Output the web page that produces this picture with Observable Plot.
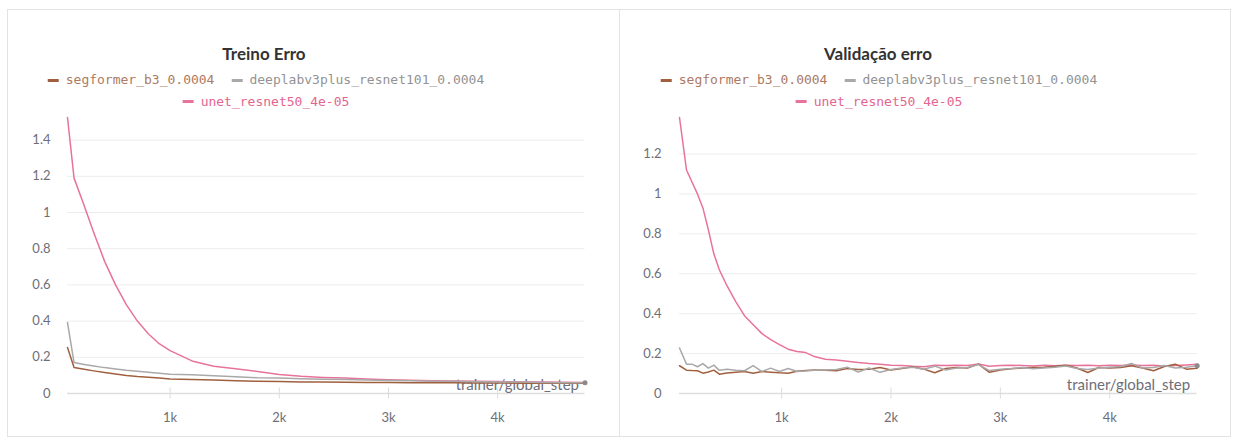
<!DOCTYPE html>
<html><head><meta charset="utf-8">
<script src="https://cdn.jsdelivr.net/npm/d3@7"></script>
<script src="https://cdn.jsdelivr.net/npm/@observablehq/plot@0.6"></script>
<style>
body{margin:0;background:#fff;width:1237px;height:439px;overflow:hidden;position:relative;font-family:Lato,sans-serif}
.panel{position:absolute;top:9px;height:428px;border:1px solid #e3e3e3;box-sizing:border-box}
.title{position:absolute;top:44px;font-weight:bold;font-size:17px;color:#333;transform:translateX(-50%);white-space:nowrap;line-height:20px}
.lrow{position:absolute;transform:translateX(-50%);white-space:nowrap;font-family:"DejaVu Sans Mono",monospace;font-size:13px;line-height:16px;display:flex;gap:17px}
.item{display:inline-flex;align-items:center}
.sw{display:inline-block;width:11px;height:3px;margin-right:7px}
.chart{position:absolute;top:109px}
</style></head><body>
<script>
// ---- data ----
const seriesNames = ["segformer_b3_0.0004", "deeplabv3plus_resnet101_0.0004", "unet_resnet50_4e-05"];
const titles = ["Treino Erro", "Validação erro"];
const xLabel = "trainer/global_step";
const xTicks = [1000, 2000, 3000, 4000];
const yTicksTrain = [0, 0.2, 0.4, 0.6, 0.8, 1, 1.2, 1.4];
const yTicksVal = [0, 0.2, 0.4, 0.6, 0.8, 1, 1.2];

const trainSteps = [60,120,200,300,400,500,600,700,800,900,1000,1200,1400,1600,1800,2000,2200,2400,2600,2800,3000,3200,3400,3600,3800,4000,4200,4400,4600,4800];
const trainSegformer = [0.254,0.144,0.135,0.125,0.116,0.108,0.1,0.094,0.09,0.085,0.08,0.078,0.075,0.07,0.067,0.066,0.064,0.063,0.062,0.061,0.061,0.06,0.06,0.059,0.058,0.058,0.057,0.057,0.056,0.056];
const trainDeeplab = [0.392,0.171,0.162,0.152,0.143,0.136,0.128,0.123,0.117,0.112,0.107,0.103,0.098,0.092,0.087,0.085,0.082,0.079,0.077,0.074,0.072,0.07,0.068,0.067,0.065,0.064,0.063,0.061,0.06,0.059];
const trainUnet = [1.525,1.19,1.06,0.89,0.73,0.6,0.49,0.4,0.33,0.275,0.237,0.18,0.15,0.137,0.122,0.105,0.095,0.089,0.085,0.08,0.076,0.073,0.071,0.069,0.067,0.066,0.064,0.063,0.062,0.061];

const valSteps = [66,130,180,230,280,330,380,430,500,580,660,740,820,900,980,1060,1140,1220,1300,1400,1500,1600,1700,1800,1900,2000,2100,2200,2300,2400,2500,2600,2700,2800,2900,3000,3100,3200,3300,3400,3500,3600,3700,3800,3900,4000,4100,4200,4300,4400,4500,4600,4700,4800];
const valSegformer = [0.139,0.117,0.115,0.114,0.102,0.108,0.117,0.097,0.103,0.107,0.11,0.102,0.11,0.107,0.104,0.102,0.112,0.115,0.118,0.116,0.114,0.125,0.12,0.122,0.13,0.118,0.125,0.134,0.122,0.104,0.125,0.13,0.128,0.147,0.106,0.118,0.124,0.128,0.13,0.132,0.136,0.142,0.128,0.105,0.13,0.128,0.13,0.139,0.128,0.114,0.135,0.147,0.122,0.127];
const valDeeplab = [0.228,0.147,0.147,0.134,0.15,0.127,0.142,0.116,0.122,0.117,0.114,0.14,0.11,0.127,0.11,0.125,0.11,0.113,0.116,0.118,0.12,0.132,0.108,0.128,0.106,0.12,0.128,0.132,0.122,0.137,0.118,0.128,0.13,0.145,0.115,0.122,0.125,0.13,0.124,0.128,0.132,0.138,0.125,0.12,0.128,0.132,0.135,0.15,0.128,0.13,0.14,0.128,0.132,0.139];
const valUnet = [1.383,1.12,1.06,1.0,0.93,0.82,0.7,0.62,0.54,0.46,0.39,0.345,0.3,0.27,0.245,0.222,0.21,0.205,0.185,0.172,0.168,0.162,0.155,0.15,0.147,0.142,0.14,0.136,0.134,0.142,0.14,0.142,0.14,0.148,0.137,0.14,0.142,0.14,0.138,0.141,0.139,0.142,0.14,0.141,0.139,0.142,0.14,0.143,0.14,0.142,0.138,0.14,0.143,0.147];

// ---- styles ----
const lineColors = ["#a0603f", "#a9a9a9", "#e8739a"];
const textColors = ["#ad7a62", "#939393", "#e3668f"];
const tickColor = "#6e6e78";

function rowsOf(steps, lists) {
  const rows = [];
  lists.forEach((vals, k) => vals.forEach((v, i) => rows.push({step: steps[i], value: v, series: seriesNames[k]})));
  return rows;
}

function panel(cfg) {
  const p = document.createElement("div");
  p.className = "panel";
  p.style.left = cfg.panelLeft + "px";
  p.style.width = cfg.panelWidth + "px";
  document.body.appendChild(p);

  const t = document.createElement("div");
  t.className = "title";
  t.textContent = cfg.title;
  t.style.left = cfg.center + "px";
  document.body.appendChild(t);

  const groups = [[0, 1], [2]];
  groups.forEach((g, r) => {
    const row = document.createElement("div");
    row.className = "lrow";
    row.style.left = cfg.legendCenter + "px";
    row.style.top = (72 + r * 21.5) + "px";
    g.forEach(k => {
      const it = document.createElement("span");
      it.className = "item";
      const sw = document.createElement("span");
      sw.className = "sw";
      sw.style.background = lineColors[k];
      const tx = document.createElement("span");
      tx.textContent = seriesNames[k];
      tx.style.color = textColors[k];
      it.appendChild(sw); it.appendChild(tx);
      row.appendChild(it);
    });
    document.body.appendChild(row);
  });

  const rows = rowsOf(cfg.steps, cfg.lists);
  const deeplabRows = rows.filter(d => d.series === seriesNames[1]);
  const last = deeplabRows[deeplabRows.length - 1];
  const chart = Plot.plot({
    width: cfg.width,
    height: 320,
    marginTop: 8,
    marginBottom: 36,
    marginLeft: 59,
    marginRight: cfg.marginRight,
    style: {fontFamily: "Lato, sans-serif", fontSize: "13px", color: tickColor, background: "transparent", overflow: "visible"},
    x: {domain: d3.extent(cfg.steps), label: null},
    y: {domain: [0, d3.max(rows, d => d.value)], label: null},
    color: {domain: seriesNames, range: lineColors},
    marks: [
      Plot.gridY(cfg.yTicks.filter(d => d > 0), {stroke: "#ededed", strokeOpacity: 1}),
      Plot.ruleY([0], {stroke: "#dedede", strokeWidth: 1.5}),
      Plot.axisX(xTicks, {tickSize: 11, dy: -5.5, tickFormat: () => "", stroke: "#dcdcdc", label: null}),
      Plot.axisX(xTicks, {tickSize: 0, tickPadding: 19, tickFormat: d => d / 1000 + "k", fill: tickColor, label: null}),
      Plot.axisY(cfg.yTicks, {tickSize: 0, tickPadding: cfg.yPad, tickFormat: d => String(+d.toFixed(1)), fill: tickColor, label: null}),
      Plot.text([xLabel], {frameAnchor: "bottom-right", dx: cfg.labelDx, dy: -4, fontSize: 15, fill: tickColor}),
      Plot.line(rows, {x: "step", y: "value", z: "series", stroke: "series", strokeWidth: 1.5, sort: {channel: "z", order: "descending"}}),
      Plot.dot([last], {x: "step", y: "value", r: 2.5, fill: "#8a8a8a"})
    ]
  });
  chart.classList.add("chart");
  chart.style.left = cfg.svgLeft + "px";
  document.body.appendChild(chart);
}

panel({panelLeft: 7, panelWidth: 613, title: titles[0], center: 264, legendCenter: 266,
  steps: trainSteps, lists: [trainSegformer, trainDeeplab, trainUnet], yTicks: yTicksTrain,
  svgLeft: 8, width: 608, marginRight: 31.5, yPad: 17, labelDx: -6});
panel({panelLeft: 619, panelWidth: 612, title: titles[1], center: 878, legendCenter: 879,
  steps: valSteps, lists: [valSegformer, valDeeplab, valUnet], yTicks: yTicksVal,
  svgLeft: 620, width: 610, marginRight: 33.3, yPad: 18, labelDx: -7});
</script>
</body></html>
